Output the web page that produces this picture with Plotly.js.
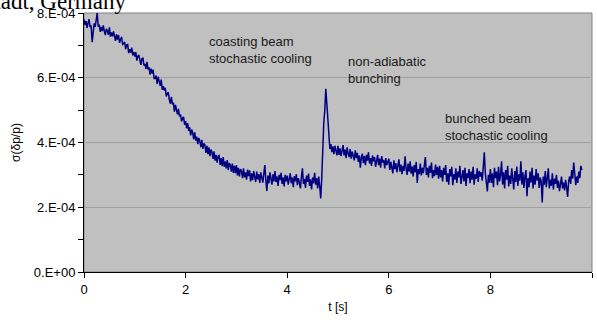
<!DOCTYPE html>
<html>
<head>
<meta charset="utf-8">
<script src="https://cdn.plot.ly/plotly-3.0.1.min.js"></script>
<style>html,body{margin:0;padding:0;background:#fff;}#chart{width:597px;height:320px;}</style>
</head>
<body>
<div id="chart"></div>
<script>
// Sampling of the trace: start and step in seconds
const tStart = 0;
const tStep = 0.02;

// sigma(dp/p), in units of 1e-4, 50 samples per second
const sigmaE4 = [
  // 0 - 0.98 s
  7.80, 7.63, 7.75, 7.54, 7.69, 7.81, 7.56, 7.62, 7.10, 7.48,
  7.68, 7.57, 7.74, 8.00, 7.58, 7.64, 7.42, 7.57, 7.44, 7.62,
  7.44, 7.32, 7.51, 7.45, 7.33, 7.56, 7.27, 7.40, 7.28, 7.43,
  7.29, 7.14, 7.34, 7.18, 7.32, 7.08, 7.18, 7.26, 7.03, 7.05,
  7.11, 6.88, 7.02, 7.03, 6.76, 6.88, 6.78, 6.93, 6.69, 6.80,
  // 1 - 1.98 s
  6.65, 6.79, 6.53, 6.67, 6.70, 6.56, 6.40, 6.59, 6.62, 6.38,
  6.43, 6.27, 6.49, 6.26, 6.32, 6.10, 6.28, 6.13, 6.25, 5.98,
  5.98, 6.07, 5.81, 6.03, 5.89, 5.75, 5.94, 5.63, 5.74, 5.61,
  5.69, 5.42, 5.51, 5.55, 5.32, 5.20, 5.41, 5.18, 5.23, 4.95,
  5.16, 5.02, 4.87, 5.04, 4.81, 4.87, 4.65, 4.75, 4.79, 4.55,
  // 2 - 2.98 s
  4.66, 4.44, 4.60, 4.36, 4.47, 4.22, 4.40, 4.30, 4.10, 4.31,
  4.06, 4.18, 3.95, 4.14, 4.05, 3.86, 4.08, 3.80, 3.97, 3.93,
  3.68, 3.90, 3.64, 3.85, 3.58, 3.78, 3.70, 3.49, 3.73, 3.44,
  3.62, 3.38, 3.58, 3.60, 3.31, 3.52, 3.27, 3.55, 3.25, 3.42,
  3.20, 3.46, 3.15, 3.36, 3.30, 3.10, 3.35, 3.06, 3.28, 3.05,
  // 3 - 3.98 s
  3.30, 2.98, 3.22, 2.95, 3.18, 3.12, 2.90, 3.20, 2.92, 3.08,
  2.85, 3.16, 2.96, 3.14, 2.80, 3.05, 2.84, 3.12, 2.90, 2.78,
  3.10, 2.86, 3.02, 2.75, 3.08, 2.92, 2.76, 3.04, 3.30, 2.82,
  2.50, 2.98, 2.74, 3.08, 2.85, 2.70, 3.02, 2.80, 3.12, 2.78,
  2.95, 2.66, 3.00, 2.84, 3.06, 2.72, 2.92, 2.64, 3.00, 2.80,
  // 4 - 4.98 s (non-adiabatic bunching spike)
  2.98, 2.70, 2.88, 3.05, 2.74, 2.92, 2.62, 2.96, 2.80, 3.02,
  2.68, 2.90, 2.76, 2.58, 2.94, 3.20, 2.72, 2.88, 2.60, 2.98,
  2.78, 3.04, 2.66, 2.86, 2.55, 2.92, 2.74, 3.06, 2.70, 2.90,
  2.58, 2.95, 2.65, 2.27, 2.90, 3.95, 4.60, 5.00, 5.66, 5.20,
  4.70, 4.05, 3.80, 3.95, 3.70, 3.88, 3.64, 3.90, 3.75, 3.60,
  // 5 - 5.98 s
  3.90, 3.62, 3.82, 3.58, 3.75, 3.92, 3.60, 3.78, 3.52, 3.85,
  3.66, 3.55, 3.80, 3.50, 3.72, 3.62, 3.45, 3.76, 3.52, 3.68,
  3.40, 3.60, 3.22, 3.55, 3.65, 3.36, 3.58, 3.30, 3.62, 3.44,
  3.70, 3.35, 3.52, 3.28, 3.60, 3.42, 3.55, 3.25, 3.48, 3.62,
  3.30, 3.50, 3.22, 3.58, 3.38, 3.46, 3.20, 3.52, 3.30, 3.42,
  // 6 - 6.98 s
  3.50, 3.15, 3.40, 3.22, 3.05, 3.45, 3.18, 3.36, 3.08, 3.30,
  3.48, 3.10, 3.32, 3.02, 3.28, 3.12, 3.57, 3.20, 3.00, 3.35,
  3.10, 3.42, 3.04, 3.26, 2.95, 3.30, 3.08, 3.40, 2.75, 3.18,
  3.02, 3.35, 2.98, 3.22, 3.05, 3.30, 3.55, 3.00, 3.22, 2.92,
  3.28, 3.06, 3.38, 2.90, 3.15, 2.96, 3.32, 3.00, 3.25, 2.88,
  // 7 - 7.98 s
  3.28, 2.92, 3.15, 2.80, 3.22, 3.00, 3.30, 2.78, 3.05, 2.70,
  3.18, 2.95, 3.25, 2.68, 3.02, 2.85, 3.20, 2.75, 3.10, 2.92,
  3.28, 2.72, 3.00, 3.15, 2.80, 3.22, 2.66, 3.05, 2.90, 3.18,
  2.74, 3.10, 2.85, 3.25, 2.70, 3.02, 2.88, 3.20, 2.78, 3.12,
  2.95, 3.08, 2.82, 3.30, 3.70, 3.05, 2.80, 2.49, 3.00, 2.76,
  // 8 - 8.98 s
  3.18, 2.75, 3.05, 2.62, 3.22, 2.90, 3.10, 2.68, 3.25, 2.80,
  3.00, 3.42, 2.70, 3.08, 2.58, 3.15, 2.85, 3.28, 2.64, 2.98,
  2.72, 3.20, 2.88, 2.55, 3.12, 2.78, 3.26, 2.66, 3.02, 2.82,
  3.42, 2.70, 3.08, 2.60, 2.95, 3.15, 2.34, 2.90, 2.62, 3.10,
  2.76, 3.22, 2.58, 2.98, 2.70, 3.18, 2.82, 3.05, 2.60, 2.92,
  // 9 - 9.80 s
  2.80, 2.15, 2.95, 2.70, 3.12, 2.62, 2.90, 3.20, 2.58, 2.85,
  2.66, 3.05, 2.55, 2.88, 2.72, 3.00, 2.60, 2.82, 2.50, 2.78,
  2.95, 2.58, 2.76, 2.52, 2.85, 2.62, 2.32, 2.80, 2.95, 2.72,
  3.15, 2.88, 3.38, 3.05, 2.68, 2.95, 2.75, 3.10, 2.90, 3.28,
  3.15
];

const yTickVals = [0, 2e-4, 4e-4, 6e-4, 8e-4];
const yTickText = ['0.E+00', '2.E-04', '4.E-04', '6.E-04', '8.E-04'];
const xTickVals = [0, 2, 4, 6, 8, 10];

const labels = [
  {text: 'coasting beam<br>stochastic cooling', t: 2.42, s: 7.4e-4},
  {text: 'non-adiabatic<br>bunching', t: 5.15, s: 6.8e-4},
  {text: 'bunched beam<br>stochastic cooling', t: 7.07, s: 5.02e-4}
];

const tVals = sigmaE4.map((_, i) => +(tStart + i * tStep).toFixed(2));
const yVals = sigmaE4.map(v => v * 1e-4);

const font = 'Arial, "Liberation Sans", sans-serif';

const trace = {
  x: tVals, y: yVals, type: 'scatter', mode: 'lines',
  line: {color: '#000080', width: 1.5}, hoverinfo: 'skip'
};

const annotations = labels.map(l => ({
  x: l.t, y: l.s, xref: 'x', yref: 'y', text: l.text, showarrow: false,
  xanchor: 'left', yanchor: 'top', align: 'left',
  font: {family: font, size: 13, color: '#1a1a1a'}
}));
// page header text cut off by the crop of the original figure
annotations.push({
  x: (128 - 84) / 508, y: (272 - 16) / 259, xref: 'paper', yref: 'paper',
  text: 'Darmstadt, Germany', showarrow: false, xanchor: 'right', yanchor: 'bottom',
  font: {family: '"Liberation Serif", "Times New Roman", serif', size: 23, color: '#000'}
});

const layout = {
  width: 597, height: 320,
  margin: {l: 84, r: 5, t: 13, b: 48},
  paper_bgcolor: '#ffffff', plot_bgcolor: '#c0c0c0',
  showlegend: false,
  xaxis: {
    range: [0, 10], tickvals: xTickVals, ticks: 'outside', ticklen: 5, tickcolor: '#000',
    showline: true, linecolor: '#000', linewidth: 1, showgrid: false, zeroline: false,
    tickfont: {family: font, size: 13, color: '#000'},
    title: {text: 't [s]', font: {family: font, size: 12, color: '#000'}, standoff: 7}
  },
  yaxis: {
    range: [0, 8e-4], tickvals: yTickVals, ticktext: yTickText, ticks: 'outside', ticklen: 5, tickcolor: '#000',
    showline: true, linecolor: '#000', linewidth: 1, showgrid: true, gridcolor: '#a0a0a0', gridwidth: 1,
    zeroline: false,
    minor: {ticks: 'outside', dtick: 1e-4, ticklen: 5, tickcolor: '#000', showgrid: false},
    tickfont: {family: font, size: 13, color: '#000'},
    title: {text: 'σ(δp/p)', font: {family: font, size: 12, color: '#000'}, standoff: 10}
  },
  shapes: [{
    type: 'rect', xref: 'paper', yref: 'paper', x0: 0, x1: 1, y0: 0, y1: 1,
    line: {color: '#808080', width: 1}, layer: 'below'
  }],
  annotations: annotations
};

Plotly.newPlot('chart', [trace], layout, {displayModeBar: false, staticPlot: true});
</script>
</body>
</html>
